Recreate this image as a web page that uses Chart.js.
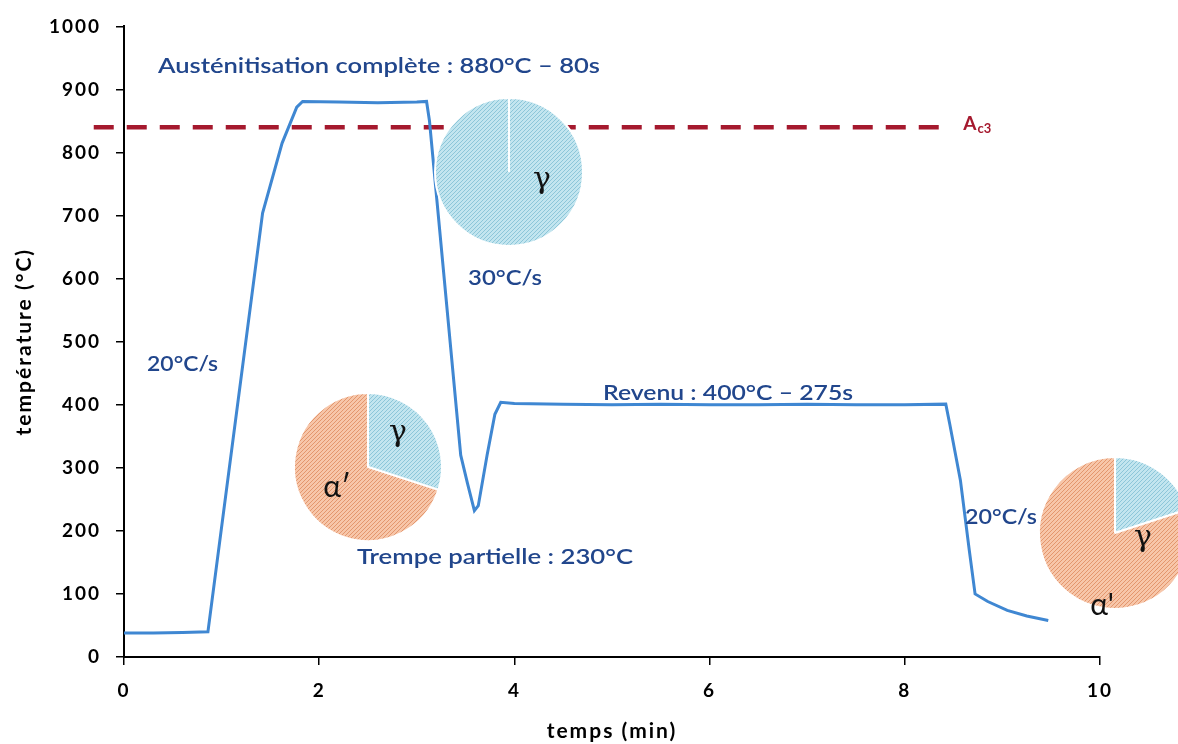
<!DOCTYPE html>
<html>
<head>
<meta charset="utf-8">
<script src="https://cdn.jsdelivr.net/npm/chart.js@4.4.0/dist/chart.umd.min.js"></script>
<style>
  html, body { margin: 0; padding: 0; background: #fff; overflow: hidden; }
  #wrap { position: relative; width: 1178px; height: 744px; overflow: hidden; }
  #main { position: absolute; left: 0; top: 0; }
  .pie { position: absolute; }
</style>
</head>
<body>
<div id="wrap">
  <canvas id="main" width="1178" height="744"></canvas>
  <canvas id="pie1" class="pie"></canvas>
  <canvas id="pie2" class="pie"></canvas>
  <canvas id="pie3" class="pie"></canvas>
</div>
<script>
// temperature cycle (time in min, temperature in °C)
const times = [0, 0.3, 0.6, 0.86, 1.42, 1.62, 1.77, 1.83, 2.2, 2.6, 3.0, 3.1, 3.13, 3.45, 3.52, 3.59,
  3.63, 3.72, 3.8, 3.86, 4.0, 4.5, 5.0, 5.5, 6.0, 6.5, 7.0, 7.5, 8.0, 8.42, 8.46, 8.57, 8.66, 8.72,
  8.85, 9.05, 9.25, 9.47];
const temps = [38, 38, 39, 40, 704, 815, 872, 881, 880, 879, 880, 881, 850, 320, 275, 232,
  240, 320, 385, 404, 402, 401, 400, 401, 400, 400, 401, 400, 400, 401, 370, 280, 170, 100,
  88, 74, 65, 58];

// Ac3 level
const ac3Times = [-0.31, 8.41];
const ac3Temps = [840, 840];

// axis ticks
const xTicks = [0, 2, 4, 6, 8, 10];
const yTicks = [0, 100, 200, 300, 400, 500, 600, 700, 800, 900, 1000];

// phase fractions (%) : gamma, alpha'
const phaseLabels = ['γ', 'α′'];
const pie1Values = [100, 0];
const pie2Values = [30, 70];
const pie3Values = [20, 80];

const BLUE_TXT = '#21468C';
const notes = [
  { text: 'Austénitisation complète : 880°C – 80s', t: 0.348, T: 937, w: 442 },
  { text: '30°C/s', t: 3.525, T: 600, w: 74 },
  { text: '20°C/s', t: 0.236, T: 464, w: 71 },
  { text: 'Trempe partielle : 230°C', t: 2.387, T: 158, w: 276 },
  { text: 'Revenu : 400°C – 275s', t: 4.908, T: 419, w: 250 },
  { text: '20°C/s', t: 8.617, T: 222, w: 72 }
];

const notePlugin = {
  id: 'notes',
  beforeDraw(chart) {
    chart.ctx.letterSpacing = '2px';
  },
  afterDraw(chart) {
    const { ctx, scales: { x, y } } = chart;
    ctx.save();
    ctx.letterSpacing = '0px';
    ctx.textBaseline = 'middle';
    ctx.textAlign = 'left';
    notes.forEach(n => {
      ctx.font = '600 21px Lato';
      ctx.fillStyle = BLUE_TXT;
      const w = ctx.measureText(n.text).width;
      ctx.save();
      ctx.translate(x.getPixelForValue(n.t), y.getPixelForValue(n.T));
      ctx.scale(n.w / w, 1);
      ctx.fillText(n.text, 0, 0);
      ctx.restore();
    });
    // Ac3 label
    const ax = x.getPixelForValue(8.6), ay = y.getPixelForValue(846);
    ctx.fillStyle = '#A5192E';
    ctx.font = 'bold 19px Lato';
    ctx.fillText('A', ax, ay);
    const aw = ctx.measureText('A').width;
    ctx.font = 'bold 13px Lato';
    ctx.fillText('c3', ax + aw + 1, ay + 5);
    ctx.restore();
  }
};

const axisFont = { family: 'Lato', weight: 'bold', size: 19 };
const titleFont = { family: 'Lato', weight: 'bold', size: 21 };

new Chart(document.getElementById('main'), {
  type: 'line',
  data: {
    datasets: [
      {
        data: times.map((t, i) => ({ x: t, y: temps[i] })),
        borderColor: '#3F87D2',
        borderWidth: 3,
        pointRadius: 0,
        tension: 0,
        order: 0
      },
      {
        data: ac3Times.map((t, i) => ({ x: t, y: ac3Temps[i] })),
        borderColor: '#A5192E',
        borderWidth: 4.5,
        borderDash: [20, 13],
        pointRadius: 0,
        clip: false,
        order: 1
      }
    ]
  },
  options: {
    responsive: false,
    animation: false,
    events: [],
    layout: { padding: { left: 0, right: 78, top: 25, bottom: 0 } },
    plugins: { legend: { display: false }, tooltip: { enabled: false } },
    scales: {
      x: {
        type: 'linear', min: 0, max: 10,
        afterBuildTicks: s => { s.ticks = xTicks.map(v => ({ value: v })); },
        ticks: { color: '#000', font: axisFont, padding: 14, maxRotation: 0, callback: v => String(v) },
        grid: { drawOnChartArea: false, color: '#000', lineWidth: 1.5, tickLength: 8 },
        border: { color: '#000', width: 2 },
        title: { display: true, text: 'temps (min)', color: '#000', font: titleFont, padding: { top: 0, bottom: 0 } },
        afterFit: s => { s.height = 87; }
      },
      y: {
        min: 0, max: 1000,
        afterBuildTicks: s => { s.ticks = yTicks.map(v => ({ value: v })); },
        ticks: { color: '#000', font: axisFont, padding: 15, callback: v => String(v) },
        grid: { drawOnChartArea: false, color: '#000', lineWidth: 1.5, tickLength: 8 },
        border: { color: '#000', width: 2 },
        title: { display: true, text: 'température (°C)', color: '#000', font: titleFont, padding: { top: 12, bottom: 0 } },
        afterFit: s => { s.width = 124; }
      }
    }
  },
  plugins: [notePlugin]
});

function hatch(base, line) {
  const c = document.createElement('canvas');
  c.width = 4; c.height = 4;
  const g = c.getContext('2d');
  g.fillStyle = base; g.fillRect(0, 0, 4, 4);
  g.strokeStyle = line; g.lineWidth = 1;
  g.beginPath();
  g.moveTo(-1, 5); g.lineTo(5, -1);
  g.moveTo(-1, 1); g.lineTo(1, -1);
  g.moveTo(3, 5); g.lineTo(5, 3);
  g.stroke();
  return g.createPattern(c, 'repeat');
}
const gammaFill = hatch('#C2E5EF', '#8CC6D9');
const alphaFill = hatch('#F7C6A9', '#E3966D');

const pies = [
  { id: 'pie1', values: pie1Values, cx: 509, cy: 172, r: 74,
    marks: [{ s: 'γ', dx: 33, dy: 8, serif: true }] },
  { id: 'pie2', values: pie2Values, cx: 368, cy: 467, r: 74,
    marks: [{ s: 'γ', dx: 30, dy: -34, serif: true }, { s: 'α′', dx: -31, dy: 20 }] },
  { id: 'pie3', values: pie3Values, cx: 1115, cy: 533, r: 76,
    marks: [{ s: 'γ', dx: 28, dy: 5, serif: true }, { s: "α'", dx: -13, dy: 72 }] }
];

const EXTRA = 24;
pies.forEach(p => {
  const size = 2 * p.r + 6 + 2 * EXTRA;
  const cv = document.getElementById(p.id);
  cv.width = size; cv.height = size;
  cv.style.left = (p.cx - size / 2) + 'px';
  cv.style.top = (p.cy - size / 2) + 'px';
  new Chart(cv, {
    type: 'pie',
    data: {
      labels: phaseLabels,
      datasets: [{
        data: p.values,
        backgroundColor: [gammaFill, alphaFill],
        borderColor: '#fff',
        borderWidth: 2
      }]
    },
    options: {
      responsive: false,
      animation: false,
      events: [],
      layout: { padding: 2 + EXTRA },
      plugins: { legend: { display: false }, tooltip: { enabled: false } }
    },
    plugins: [{
      id: 'phaseMarks',
      afterDraw(chart) {
        const ctx = chart.ctx;
        const c = size / 2;
        ctx.save();
        ctx.fillStyle = '#111';
        ctx.textAlign = 'center';
        ctx.textBaseline = 'middle';
        p.marks.forEach(m => {
          ctx.font = m.serif ? '30px "DejaVu Serif"' : '30px Lato';
          ctx.fillText(m.s, c + m.dx, c + m.dy);
        });
        ctx.restore();
      }
    }]
  });
});
</script>
</body>
</html>
